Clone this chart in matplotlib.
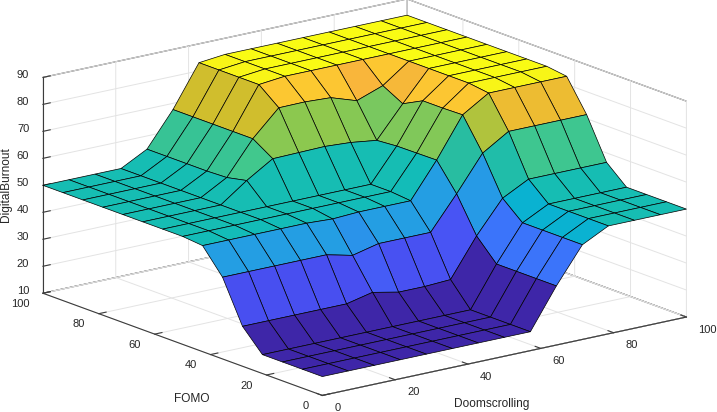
import numpy as np
import matplotlib
matplotlib.use('Agg')
import matplotlib.pyplot as plt
from matplotlib.colors import LinearSegmentedColormap, Normalize

# input grid (15 points per input, like gensurf)
doomscrolling = np.linspace(0, 100, 15)
fomo = np.linspace(0, 100, 15)

# DigitalBurnout, rows = FOMO index, cols = Doomscrolling index
burnout = np.array([
    [17.0, 17.0, 17.0, 17.0, 17.0, 17.0, 17.0, 17.0, 17.0, 31.9, 45.1, 50.0, 50.0, 50.0, 50.0],
    [17.0, 17.0, 17.0, 17.0, 17.0, 17.0, 17.0, 17.0, 17.0, 31.9, 45.1, 50.0, 50.0, 50.0, 50.0],
    [17.0, 17.0, 17.0, 17.0, 17.0, 17.0, 17.0, 17.0, 17.0, 31.9, 45.1, 50.0, 50.0, 50.0, 50.0],
    [17.0, 17.0, 17.0, 17.0, 17.0, 17.0, 17.0, 17.0, 17.0, 31.9, 45.1, 50.0, 50.0, 50.0, 50.0],
    [24.8, 24.8, 24.8, 24.8, 24.8, 27.0, 25.0, 25.0, 25.5, 39.6, 51.5, 56.5, 56.5, 56.5, 56.5],
    [40.3, 40.3, 40.3, 40.3, 40.3, 38.0, 40.3, 40.3, 40.3, 52.5, 65.5, 71.5, 71.5, 71.5, 71.5],
    [49.3, 49.3, 49.3, 49.3, 49.3, 48.8, 49.3, 49.3, 49.3, 62.3, 77.0, 83.0, 83.0, 83.0, 83.0],
    [50.0, 50.0, 50.0, 50.0, 50.0, 50.0, 50.0, 50.0, 50.0, 62.2, 76.8, 84.0, 84.0, 84.0, 84.0],
    [50.0, 50.0, 50.0, 50.0, 50.0, 50.0, 50.0, 50.0, 50.0, 62.1, 76.8, 84.0, 84.0, 84.0, 84.0],
    [50.0, 50.0, 50.0, 50.0, 57.0, 63.0, 63.2, 63.4, 62.8, 61.5, 73.0, 84.0, 84.0, 84.0, 84.0],
    [50.0, 50.0, 50.0, 50.0, 55.4, 67.7, 77.1, 77.2, 76.7, 73.5, 77.0, 84.0, 84.0, 84.0, 84.0],
    [50.0, 50.0, 50.0, 50.0, 55.1, 67.7, 83.0, 84.0, 84.0, 84.0, 84.0, 84.0, 84.0, 84.0, 84.0],
    [50.0, 50.0, 50.0, 50.0, 55.1, 67.7, 83.0, 84.0, 84.0, 84.0, 84.0, 84.0, 84.0, 84.0, 84.0],
    [50.0, 50.0, 50.0, 50.0, 55.1, 67.7, 83.0, 84.0, 84.0, 84.0, 84.0, 84.0, 84.0, 84.0, 84.0],
    [50.0, 50.0, 50.0, 50.0, 55.1, 67.7, 83.0, 84.0, 84.0, 84.0, 84.0, 84.0, 84.0, 84.0, 84.0],
])

xticks = [0, 20, 40, 60, 80, 100]
yticks = [0, 20, 40, 60, 80, 100]
zticks = [10, 20, 30, 40, 50, 60, 70, 80, 90]

# rough parula
parula = LinearSegmentedColormap.from_list('parula', [
    (0.00, (0.242, 0.150, 0.660)),
    (0.12, (0.285, 0.320, 0.955)),
    (0.23, (0.225, 0.470, 0.985)),
    (0.35, (0.140, 0.620, 0.890)),
    (0.42, (0.040, 0.700, 0.820)),
    (0.49, (0.080, 0.740, 0.710)),
    (0.53, (0.160, 0.740, 0.630)),
    (0.60, (0.260, 0.785, 0.550)),
    (0.69, (0.550, 0.785, 0.310)),
    (0.76, (0.830, 0.745, 0.170)),
    (0.81, (0.920, 0.740, 0.190)),
    (0.85, (0.990, 0.710, 0.240)),
    (0.90, (0.990, 0.785, 0.190)),
    (0.95, (0.965, 0.880, 0.130)),
    (1.00, (0.977, 0.984, 0.080)),
])

plt.rcParams['font.family'] = ['Liberation Sans', 'DejaVu Sans']
txt = '#262626'

fig = plt.figure(figsize=(7.17, 4.12), dpi=100)
side = 717 / 412
ax = fig.add_axes([-0.0049, 0.5158 - side / 2 - 0.018, 1.0, side], projection='3d')
ax.set_proj_type('ortho')

X, Y = np.meshgrid(doomscrolling, fomo)
norm = Normalize(burnout.min(), burnout.max())
# colour each face by its first corner, like MATLAB flat shading
fc = parula(norm(burnout))
ax.plot_surface(X, Y, burnout, facecolors=fc, edgecolor='k', linewidth=0.5,
                shade=False, rstride=1, cstride=1, antialiased=True)

ax.set_xlim(-0.001, 100.001)
ax.set_ylim(-0.001, 100.001)
ax.set_zlim(10, 90)
ax.set_xticks(xticks, labels=[''] * len(xticks))
ax.set_yticks(yticks, labels=[''] * len(yticks))
ax.set_zticks(zticks, labels=[''] * len(zticks))
ax.view_init(elev=16.3, azim=-127.5)
ax.set_box_aspect((1, 1, 0.49), zoom=0.93)

for a in (ax.xaxis, ax.yaxis, ax.zaxis):
    a.set_pane_color((1, 1, 1, 1))
    a.pane.set_edgecolor('#3c3c3c')
    a.pane.set_linewidth(0.8)
    a._axinfo['grid'].update(color='#e3e3e3', linewidth=0.7)
    a._axinfo['tick'].update(inward_factor=0.0, outward_factor=0.25)
    a.line.set_color('#3c3c3c')
    a.line.set_linewidth(0.8)
    # built-in labels stay hidden (pulled inside the box), drawn by hand below
    a.set_tick_params(colors='#3c3c3c', labelbottom=False, labeltop=False,
                      labelsize=1, pad=-40)

# tick labels placed MATLAB-style next to the axis lines
for t in xticks:
    ax.text(t, -4.3, 6.97, str(t), ha='left', va='center', fontsize=8, color=txt)
for t in yticks:
    ax.text(-3.74, t, 7.18, str(t), ha='right', va='center', fontsize=8, color=txt)
for t in zticks:
    ax.text(-1.42, 103.08, t, str(t), ha='right', va='center', fontsize=8, color=txt)

fig.text(0.0077, 0.551, 'DigitalBurnout', rotation=90, ha='center', va='center', fontsize=8.6, color=txt)
fig.text(0.267, 0.032, 'FOMO', ha='center', va='center', fontsize=8.6, color=txt)
fig.text(0.686, 0.019, 'Doomscrolling', ha='center', va='center', fontsize=8.6, color=txt)

fig.savefig('out.png', dpi=100)
